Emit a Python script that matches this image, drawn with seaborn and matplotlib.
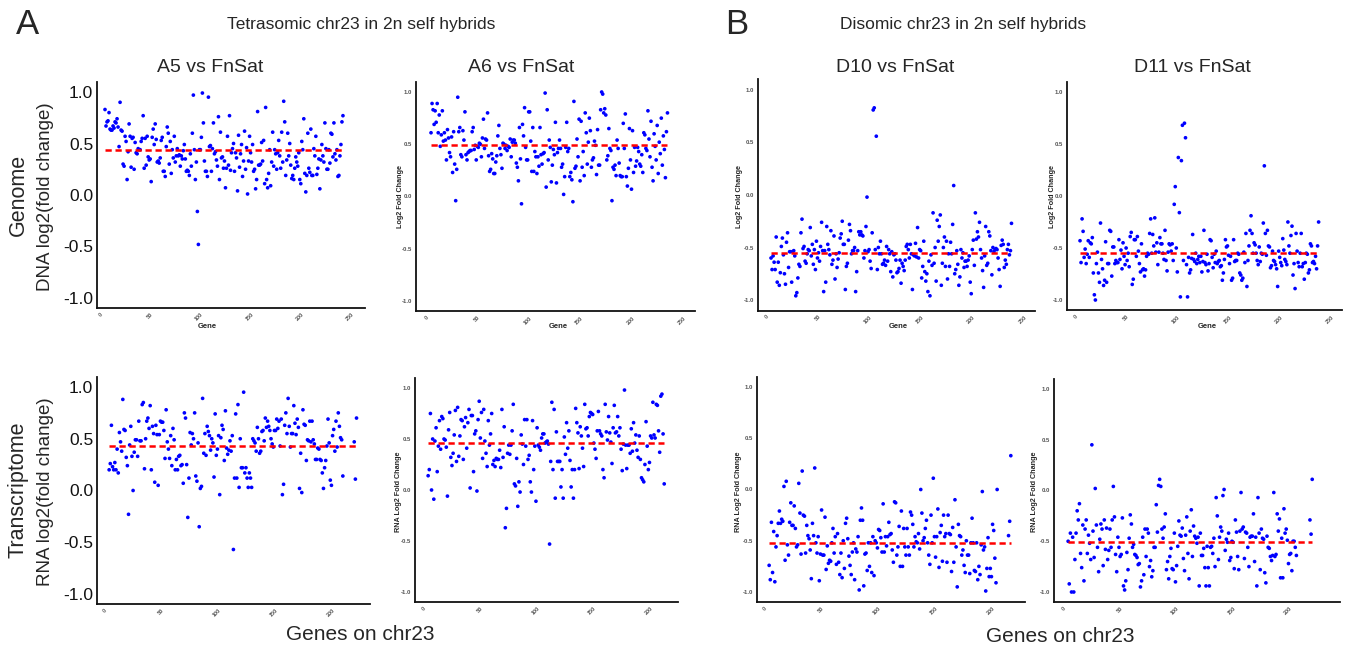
import numpy as np
import pandas as pd
import matplotlib.pyplot as plt
import seaborn as sns

# ==========================================
# 1. DATA (log2 fold change per gene on chr23)
# ==========================================
nan = np.nan

a5_dna = [0.83, 0.67, 0.71, 0.72, 0.80, 0.64, 0.63, 0.63, 0.67, 0.65, 0.71, 0.70, 0.74, 0.66, 0.47, 0.90,
          0.63, 0.62, 0.30, 0.28, 0.57, 0.52, 0.15, 0.42, 0.69, 0.57, 0.27, 0.55, 0.56, 0.25, 0.51, 0.41,
          0.40, 0.45, 0.44, 0.44, 0.52, 0.55, 0.77, 0.26, 0.55, 0.29, 0.57, 0.37, 0.34, 0.35, 0.13, 0.56,
          0.64, 0.49, 0.69, 0.54, 0.32, 0.33, 0.31, 0.36, 0.53, 0.56, 0.23, 0.23, 0.18, 0.47, 0.66, 0.60,
          0.30, 0.52, 0.21, 0.44, 0.36,
          0.57, 0.32, 0.38, 0.45, 0.38, 0.39, 0.28, 0.38, 0.35, 0.43, 0.49, 0.35, 0.23, 0.24, 0.23, 0.19,
          0.40, 0.28, 0.60, 0.97, 0.44, 0.15, 0.32, -0.16, -0.48, 0.44, 0.44, 0.56, 0.99, 0.70, 0.33, 0.23,
          0.23, 0.18, 0.95, 0.47, 0.48, 0.23, 0.45, 0.70, 0.40, 0.42, 0.34, 0.28, 0.76, 0.15, 0.61, 0.36,
          0.37, 0.26, 0.33, 0.07, 0.26, 0.57, 0.29, 0.77, 0.24, 0.41, 0.45, 0.50, 0.23, 0.41, 0.36, 0.04,
          0.58, 0.27, 0.40, 0.49, 0.18, 0.33, 0.62, 0.25, 0.46,
          0.01, 0.33, 0.57, 0.41, 0.32, 0.49, 0.23, 0.25, 0.06, 0.15, 0.81, 0.29, 0.29, 0.30, 0.51, 0.33,
          0.53, 0.11, 0.85, 0.15, 0.07, 0.21, 0.44, 0.09, 0.32, 0.61, 0.28, 0.44, 0.40, 0.25, 0.41, 0.53,
          0.38, 0.26, 0.61, 0.32, 0.91, 0.71, 0.19, 0.34, 0.60, 0.38, 0.50, 0.29, 0.16, 0.19, 0.15, 0.26,
          0.37, 0.32, 0.28, 0.41, 0.15, 0.11, 0.52, 0.44, 0.74, 0.21, 0.03, 0.19, 0.60, 0.26, 0.22, 0.64,
          0.19, 0.19, 0.45, 0.38, 0.57, 0.20, 0.26, 0.35, 0.06, 0.34, 0.49, 0.38, 0.32, 0.70, 0.45, 0.25,
          0.25, 0.44, 0.31, 0.60, 0.59, 0.37, 0.70, 0.40, 0.34, 0.44, 0.18, 0.19, 0.38, 0.49, 0.71, 0.77]

a6_dna = [0.61, 0.89, 0.83, 0.69, 0.82, 0.71, 0.89, 0.61, 0.78, 0.48, 0.59, 0.82, 0.53, 0.61, 0.54, 0.35,
          0.64, 0.56, 0.42, 0.38, 0.57, 0.23, 0.62, 0.31, -0.04, 0.26, 0.95, 0.62, 0.66, 0.40, 0.38, 0.63,
          0.54, 0.81, 0.40, 0.35, 0.42, 0.43, 0.44, 0.44, 0.62, 0.66, 0.45, 0.49, 0.35, 0.48, 0.47, 0.51,
          0.50, 0.38, 0.56, 0.74, 0.46, 0.55, 0.54, 0.80, 0.39, 0.24, 0.26, 0.41, 0.36, 0.22, 0.22, 0.33,
          0.39, 0.58, 0.68, 0.46, 0.40, 0.27, 0.51, 0.50, 0.46, 0.49, 0.44, 0.48, 0.47, 0.55, 0.38, 0.52,
          0.54, 0.54, 0.51, 0.32, 0.28, 0.15, 0.66, 0.36, -0.07, 0.69, 0.58, 0.85, 0.47, 0.35, 0.35, 0.81,
          0.81, 0.53, 0.24, 0.66, 0.24, 0.43, 0.38, 0.22, 0.38, 0.29, 0.66, 0.40, 0.31, 0.41, 0.42, 0.99,
          0.09, 0.83, 0.35, 0.54, 0.47, 0.14, 0.30, 0.45, 0.40, 0.71, 0.13, 0.42, 0.46, 0.54, 0.46, 0.28,
          0.31, 0.02, 0.19, 0.47, 0.71, 0.43, 0.46, 0.19, 0.23, 0.16, -0.05, 0.91, 0.27, 0.29, 0.55, 0.38,
          0.74, 0.15, 0.72, 0.28, 0.43, 0.20, 0.80, 0.61, 0.31, 0.52, 0.75, 0.63, 0.28, 0.35, 0.37, 0.53,
          0.49, 0.21, 0.64, 0.30, 0.30, 0.83, 1.00, 0.98, 0.80, 0.84, 0.78, 0.35, 0.39, 0.65, 0.46, 0.44,
          -0.04, 0.28, 0.26, 0.30, 0.20, 0.54, 0.46, 0.32, 0.20, 0.19, 0.19, 0.70, 0.46, 0.79, 0.19, 0.10,
          0.27, 0.65, 0.35, 0.07, 0.63, 0.23, 0.47, 0.29, 0.34, 0.47, 0.43, 0.31, 0.29, 0.40, 0.23, 0.61,
          0.59, 0.46, 0.44, 0.82, 0.55, 0.38, 0.72, 0.28, 0.15, 0.60, 0.48, 0.35, 0.68, 0.22, 0.52, 0.41,
          0.75, 0.30, 0.58, 0.45, 0.18, 0.62, 0.80]

d10_dna = [-0.60, -0.71, -0.58, -0.64, -0.71, -0.40, -0.83, -0.64, -0.86, -0.74, -0.49, -0.41, -0.57,
           -0.75, -0.85, -0.45, -0.36, -0.69, -0.54, -0.54, -0.83, -0.54, -0.53, -0.58, -0.96, -0.93,
           -0.79, -0.66, -0.68, -0.36, -0.23, -0.51, -0.49, -0.63, -0.65, -0.56, -0.52, -0.53, -0.31,
           -0.58, -0.47, -0.66, -0.52, -0.71, -0.44, -0.60, -0.55, -0.63, -0.49,
           -0.26, -0.53, -0.92, -0.53, -0.83, -0.30, -0.47, -0.52, -0.57, -0.34, -0.66, -0.62, -0.39,
           -0.80, -0.56, -0.69, -0.61, -0.55, -0.41, -0.37, -0.25, -0.47, -0.47, -0.90, -0.68, -0.65,
           -0.43, -0.28, -0.34, -0.56, -0.53, -0.53, -0.50, -0.92, -0.73, -0.53, -0.35, -0.38, -0.35,
           -0.38, -0.39, -0.60, -0.53, -0.30, -0.02, -0.54, -0.52, -0.63, -0.70, -0.36, 0.81, 0.83,
           -0.52, 0.56, -0.71, -0.50, -0.56, -0.44, -0.56, -0.66, -0.65, -0.62, -0.67, -0.49, -0.63,
           -0.52, -0.56, -0.73, -0.54, -0.78, -0.57, -0.56, -0.62, -0.74, -0.73, -0.70, -0.62, -0.84,
           -0.65, -0.68, -0.72, -0.62, -0.49, -0.47, -0.52, -0.60, -0.47, -0.56, -0.90, -0.57, -0.58,
           -0.46, -0.59, -0.31, -0.60, -0.52, -0.53, -0.79, -0.68, -0.44, -0.73, -0.82, -0.75, -0.92,
           -0.63, -0.96, -0.57, -0.67, -0.17, -0.65, -0.50, -0.82, -0.24, -0.44, -0.30, -0.19, -0.86,
           -0.65, -0.50, -0.40, -0.68, -0.44, -0.80, -0.56, -0.68, -0.45, -0.56, -0.28, 0.09, -0.75,
           -0.71, -0.53, -0.66, -0.86, -0.78, -0.52, -0.60, -0.55, -0.69, -0.63, -0.63, -0.68, -0.62,
           -0.58, -0.83, -0.94, -0.52, -0.43, -0.67, -0.17, -0.42, -0.35, -0.40, -0.26, -0.52, -0.60,
           -0.72, -0.88, -0.58, -0.30, -0.67, -0.65, -0.35, -0.39, -0.53, -0.76, -0.50, -0.54, -0.52,
           -0.51, -0.52, -0.60, -0.71, -0.87, -0.48, -0.43, -0.47, -0.69, -0.62, -0.66, -0.52, -0.47,
           -0.57, -0.53, -0.27]

d11_dna = [-0.43, -0.64, -0.22, -0.34, -0.59, -0.51, -0.65, -0.56, -0.43, -0.59, -0.45, -0.46, -0.40,
           -0.74, -0.95, -1.00, -0.65, -0.54, -0.74, -0.83, -0.26, -0.61, -0.70, -0.86, -0.81, -0.44,
           -0.83, -0.65, -0.65, -0.33, -0.34, -0.77, -0.49, -0.49, -0.65, -0.62, -0.64, -0.64, -0.42,
           -0.61, -0.52, -0.70, -0.45, -0.58, -0.66, -0.50, -0.62, -0.55, -0.68,
           -0.39, -0.35, -0.85, -0.80, -0.42, -0.42, -0.58, -0.39, -0.53, -0.65, -0.73, -0.46, -0.71,
           -0.70, -0.77, -0.71, -0.58, -0.55, -0.56, -0.36, -0.22, -0.55, -0.37, -0.48, -0.21, -0.54,
           -0.45, -0.66, -0.54, -0.40, -0.46, -0.46, -0.55, -0.61, -0.33, -0.62, -0.72, -0.54, -0.46,
           -0.47, -0.53, -0.46, -0.62, -0.08, 0.09, -0.50, -0.73, 0.37, -0.16, -0.97, 0.34, 0.68, -0.62,
           0.70, 0.56, -0.66, -0.97, -0.59, -0.74, -0.71, -0.60, -0.37, -0.61, -0.63, -0.55, -0.65,
           -0.61, -0.58, -0.64, -0.58, -0.73, -0.63, -0.33, -0.64, -0.66, -0.56, -0.72, -0.65, -0.42,
           -0.43, -0.59, -0.69, -0.56, -0.64, -0.53, -0.65, -0.63, -0.62, -0.68, -0.67, -0.81, -0.74,
           -0.61, -0.42, -0.49, -0.48, -0.57, -0.65, -0.58, -0.81, -0.79, -0.42, -0.63, -0.62, -0.62,
           -0.55, -0.56, -0.74, -0.76, -0.81, -0.79, -0.54, -0.64, -0.36, -0.87, -0.62, -0.48, -0.33,
           -0.19, -0.36, -0.55, -0.45, -0.47, -0.55, -0.62, -0.66, -0.49, -0.63, -0.55, -0.56, -0.26,
           0.29, -0.36, -0.57, -0.33, -0.48, -0.49, -0.69, -0.67, -0.53, -0.62, -0.63, -0.66, -0.70,
           -0.87, -0.53, -0.59, -0.64, -0.67, -0.41, -0.52, -0.61, -0.63, -0.66, -0.25, -0.48, -0.55,
           -0.38, -0.29, -0.76, -0.65, -0.89, -0.36, -0.53, -0.64, -0.68, -0.55, -0.36, -0.68, -0.65,
           -0.80, -0.64, -0.55, -0.56, -0.74, -0.71, -0.46, -0.48, -0.64, -0.63, -0.65, -0.58, -0.70,
           -0.48, -0.25]

a5_rna = [0.20, 0.26, 0.63, 0.23, 0.20, 0.27, 0.20, 0.40, 0.17, 0.56, 0.47, 0.38, 0.88, 0.59, 0.58,
          0.32, 0.24, -0.23, 0.44, 0.62, 0.33, 0.00, 0.37, 0.49, 0.49, 0.33, 0.67, 0.48, 0.48, 0.83,
          0.85, 0.21, 0.50, 0.67, 0.70, 0.60, 0.82, 0.20, 0.62, 0.55, 0.08, 0.63, 0.54, 0.05, 0.54,
          0.67, 0.66, 0.66, 0.58, 0.31, 0.78, 0.47, 0.40, 0.31, 0.53, 0.24, 0.60, 0.49, 0.20, 0.30,
          0.20, 0.33, 0.34, 0.24, 0.25, 0.07, 0.75, 0.70, 0.25, -0.26, 0.12, 0.56, 0.44, 0.55, 0.50,
          0.75, 0.14, 0.09, 0.46, -0.35, 0.02, 0.04, 0.89, 0.36, 0.55, 0.34, 0.62, 0.57, 0.53, 0.39,
          0.50, 0.46, 0.13, 0.74, 0.34, 0.40, 0.53, -0.04, 0.51, 0.63, 0.59, 0.29, 0.77, 0.41, 0.35,
          0.39, 0.48, 0.38, 0.53, -0.57, 0.12, 0.74, 0.12, 0.83, 0.03, 0.50, 0.22, 0.22, 0.95, 0.17,
          0.22, 0.12, 0.03, 0.17, 0.12, 0.03, 0.50, 0.48, 0.46, 0.38, 0.61, 0.50, 0.36, 0.38, 0.57,
          0.58, 0.48, 0.70, 0.61, 0.67, 0.62, 0.58, 0.50, 0.45, 0.42, 0.58, 0.58, 0.69, 0.60, 0.67,
          0.43, 0.69, -0.04, 0.06, 0.63, 0.75, 0.55, 0.89, 0.62, 0.42, 0.55, 0.55, 0.82, 0.65, 0.54,
          0.69, 0.61, 0.02, 0.36, -0.02, 0.78, 0.64, 0.63, 0.29, 0.49, 0.48, 0.67, 0.47, 0.67, 0.49,
          0.45, 0.30, 0.30, 0.41, 0.40, 0.30, 0.29, 0.17, 0.02, 0.22, 0.29, 0.43, 0.69, 0.46, 0.10,
          0.05, 0.53, 0.59, 0.38, 0.67, 0.42, 0.75, 0.62, 0.51, 0.49, 0.14,
          nan, nan, nan, nan, nan, nan, nan, nan, nan, 0.47, 0.11, 0.70]

a6_rna = [0.14, 0.20, 0.75, 0.00, 0.50, -0.09, 0.48, 0.61, 0.18, 0.43, 0.68, 0.40, 0.72, 0.70, 0.50,
          0.49, 0.42, -0.06, 0.59, 0.76, 0.32, 0.24, 0.36, 0.54, 0.78, 0.28, 0.81, 0.33, 0.53, 0.69,
          0.68, 0.30, 0.62, 0.71, 0.41, 0.66, 0.79, 0.02, 0.73, 0.73, 0.18, 0.55, 0.58, -0.01, 0.69,
          0.87, 0.51, 0.76, 0.31, 0.79, 0.48, 0.36, 0.23, 0.68, 0.44, 0.55, 0.75, 0.25, 0.29, 0.23,
          0.31, 0.30, 0.30, 0.39, 0.22, 0.79, 0.32, 0.62, -0.37, -0.18, 0.36, 0.44, 0.35, 0.44, 0.58,
          0.84, 0.06, 0.04, 0.31, -0.16, 0.08, -0.02, 0.54, 0.45, 0.25, 0.69, 0.43, 0.69, 0.30, 0.34,
          0.08, -0.02, 0.68, 0.20, 0.43, -0.11, 0.61, 0.44, 0.42, 0.39, 0.51, 0.55, 0.55, 0.46, 0.47,
          0.48, 0.45, -0.53, 0.28, 0.86, 0.20, 0.79, -0.08, 0.57, 0.28, 0.28, 0.28, 0.03, 0.20, -0.08,
          0.52, 0.35, 0.66, 0.41, 0.58, 0.29,
          0.03, 0.20, -0.08, 0.20, 0.80, 0.66, 0.56, 0.21, 0.62, 0.53, 0.41, 0.23, 0.84, 0.60, 0.61,
          0.53, 0.72, 0.76, 0.75, 0.74, 0.46, 0.40, 0.31, 0.58, 0.77, 0.58, 0.55, 0.53, 0.20, 0.12,
          0.84, 0.57, 0.49, 0.72, 0.56, 0.47, 0.26, 0.61, 0.83, 0.56, 0.57, 0.72, 0.53, 0.61, 0.40,
          0.19, 0.45, 0.98, 0.44, 0.21, 0.44, 0.44, 0.36, 0.60, 0.38, 0.66, 0.46, 0.54, 0.39, 0.32,
          0.53, 0.30, 0.12, 0.10, 0.08, 0.25, 0.67, 0.43, 0.20, 0.27, 0.53, 0.51, 0.86, 0.54, 0.51,
          0.84, 0.83, 0.58, 0.37, 0.92, 0.94, 0.55, 0.06]

d10_rna = [-0.74, -0.88, -0.32, -0.81, -0.41, -0.90, -0.56, -0.45, -0.33, -0.21, -0.33, -0.29, -0.31,
           0.03, -0.69, 0.08, -0.54, -0.64, -0.32, -0.13, -0.35, -0.35, -0.16, -0.38, -0.56, -0.54,
           0.06, -0.23, -0.63, 0.18, -0.25, -0.26, -0.62, -0.35, -0.45, -0.48, -0.59, -0.87, -0.33,
           -0.45, 0.21, -0.52, -0.62, -0.46, -0.89, -0.63, -0.20, -0.64, -0.64, -0.27, -0.78, -0.55,
           -0.72, -0.69, -0.70, -0.52, -0.38, -0.62, -0.46, -0.73, -0.43, -0.71, -0.83, -0.62, -0.86,
           -0.50, -0.77, -0.33, -0.28, -0.48, -0.65, -0.74, -0.83, -0.61, -0.52, -0.88, -0.58, -0.61,
           -0.46, -0.98, -0.30, -0.18, -0.30, -0.94, -0.63, -0.62, -0.79, -0.52, -0.75, -0.52, -0.81,
           -0.46, -0.84, -0.50, -0.52, -0.57, -0.39, -0.40, -0.47, -0.61, -0.14, -0.61, -0.46, -0.55,
           -0.46, -0.32, -0.44, -0.43, -0.59, -0.71, -0.12, -0.13, -0.64, -0.56, -0.36, -0.75, -0.21,
           -0.75, -0.38, -0.56, -0.64, -0.38, -0.56, -0.64, -0.22, -0.25, -0.34, -0.56, -0.46, -0.51,
           -0.52, -0.43, -0.58, 0.00, -0.23, -0.50, -0.47, -0.38, -0.30, -0.52, -0.64, -0.73, -0.25,
           -0.52, 0.11, -0.46, -0.66, -0.46, -0.19, -0.76, -0.42, -0.35, -0.70, -0.25, -0.46, -0.43,
           -0.71, -0.25, -0.43, -0.44, -0.80, -0.37, -0.71, -0.10, -0.56, -0.95, -0.34, -0.45, -0.46,
           -0.64, -0.59, -0.74, -0.81, -0.50, -0.64, -0.64, -0.82, -0.52, -0.28, -0.52, -0.79, -0.80,
           -0.52, -0.88, -0.75, -0.83, -0.54, -0.02, -0.59, -0.56, -0.99, -0.77, -0.47, -0.85, -0.77,
           -0.85, -0.34, -0.40, -0.67, -0.91, 0.00,
           nan, nan, nan, nan, nan, nan, nan, nan, nan, -0.45, -0.31, 0.33]

d11_rna = [-0.50, -0.92, -0.42, -1.00, -0.46, -1.00, -0.68, -0.42, -0.20, -0.29, -0.13, -0.62, -0.76,
           -0.34, -0.89, -0.38, -0.29, -0.62, -0.44, -0.52, -0.68, 0.45, -0.40, -0.66, 0.02, -0.34,
           -0.56, -0.80, -0.48, -0.33, -0.38, -0.74, -0.29, -0.58, -0.37, -0.68, -0.59, -0.38, -0.56,
           -0.29, 0.04, -0.26, -0.63, -0.80, -0.46, -0.56, -0.65, -0.63, -0.27, -0.94, -0.98, -0.89,
           -0.61, -0.78, -0.47, -0.24, -0.33, -0.56, -0.53, -0.63, -0.64, -0.66, -0.73, -0.72, -0.95,
           -0.89, -0.46, -0.83, -0.38, -0.65, -0.38, -0.42, -0.75, -0.69, -0.85, -0.79, -0.56, -0.56,
           -0.14, -0.41, 0.05, 0.11, 0.04, -0.38, -0.47, -0.36, -0.23, -0.78, -0.70, -0.87, -0.65,
           -0.57, -0.77, -0.78, -0.42, -0.90, -0.74, -0.55, -0.30, -0.44, -0.45, -0.37, -0.67, -0.79,
           -0.44, -0.26, -0.62, -0.87, -0.40, -0.19, -0.65, -0.35, -0.45, -0.47, -0.52, -0.46, -0.94,
           -0.42, -0.64, -0.64, -0.57, -0.76, -0.94, -0.55, -0.76, -0.94, -0.56, -0.55, -0.62, -0.47,
           -0.75, -0.07, -0.25, -0.68, -0.46, -0.36, -0.40, -0.05, 0.01, -0.59, -0.48, -0.51, -0.42,
           -0.69, -0.66, -0.50, -0.51, -0.77, -0.29, -0.41, -0.65, -0.78, -0.40, -0.02, -0.38, -0.36,
           -0.67, -0.41, -0.42, -0.56, -0.75, -0.46, -0.45, -0.45, -0.23, -0.70, -0.46, -0.94, -0.07,
           -0.42, -0.78, -0.38, -0.47, -0.48, -0.81, -0.91, -0.45, -0.56, -0.57, -0.65, -0.69, -0.64,
           -0.02, -0.65, -0.63, -0.23, -0.40, -0.28, -0.86, -0.47, -0.86, -0.18, -0.42, -0.38, -0.49,
           -0.72, -0.63, -0.62, -0.79, -0.50, -0.50, -0.56, -0.64,
           nan, nan, nan, nan, nan, nan, nan, nan, nan, nan, nan, -0.29, -0.43, 0.11]

# mean line (red dashed) of each comparison
means = {'A5_dna': 0.44, 'A6_dna': 0.49, 'D10_dna': -0.55, 'D11_dna': -0.55,
         'A5_rna': 0.43, 'A6_rna': 0.46, 'D10_rna': -0.52, 'D11_rna': -0.51}

dna_ticks = [0, 50, 100, 150, 200, 250]
rna_ticks = [0, 50, 100, 150, 200]
y_ticks = [-1.0, -0.5, 0.0, 0.5, 1.0]
y_labels = ['-1.0', '-0.5', '0.0', '0.5', '1.0']

# ==========================================
# 2. FIGURE
# ==========================================
sns.set_theme(style="white")
plt.rcParams['font.family'] = ['Liberation Sans', 'DejaVu Sans']

W, H = 1350, 654
fig = plt.figure(figsize=(W / 100, H / 100), dpi=100)
fig.patch.set_facecolor('white')


def px(x, y):
    return x / W, 1 - y / H


def painel(vals, media, xticks, x0, x_end, left, right, y_top, y_bot, big=False):
    # x0/x_end: pixel of first/last tick, y_top/y_bot: pixel of 1.0 / -1.0
    ax = fig.add_axes([0, 0, 1, 1])
    df = pd.DataFrame({'Gene': np.arange(1, len(vals) + 1), 'LFC': vals}).dropna()
    sns.scatterplot(data=df, x='Gene', y='LFC', ax=ax, color='#0000ff', s=7,
                    linewidth=0, edgecolor='none', legend=False)
    ax.hlines(media, df['Gene'].min(), df['Gene'].max(), colors='#ff0000', lw=1.8,
              linestyles=(0, (2.5, 1.5)), zorder=3)

    ppg = (x_end - x0) / xticks[-1]
    ppu = (y_bot - y_top) / 2
    top = y_top - 0.1 * ppu
    bot = y_bot + 0.1 * ppu
    ax.set_position([left / W, 1 - bot / H, (right - left) / W, (bot - top) / H])
    ax.set_xlim((left - x0) / ppg, (right - x0) / ppg)
    ax.set_ylim(-1.1, 1.1)

    ax.set_xticks(xticks)
    ax.set_xticklabels([str(t) for t in xticks], rotation=45, ha='right', fontsize=4,
                       color='#555555', fontweight='bold')
    ax.set_yticks(y_ticks)
    if big:
        ax.set_yticklabels(y_labels, fontsize=12.5, color='#111111')
    else:
        ax.set_yticklabels(y_labels, fontsize=4.3, color='#555555', fontweight='bold')
    ax.tick_params(axis='both', length=1.5, width=0.5, pad=1.2, colors='#555555',
                   labelcolor='#111111' if big else '#555555')
    ax.tick_params(axis='x', labelcolor='#555555')
    for s in ['top', 'right']:
        ax.spines[s].set_visible(False)
    for s in ['left', 'bottom']:
        ax.spines[s].set_color('#111111')
        ax.spines[s].set_linewidth(1.3)
    ax.set_xlabel('')
    ax.set_ylabel('')
    ax.grid(False)
    return ax


# genome row
painel(a5_dna, means['A5_dna'], dna_ticks, 104, 355, 97, 365, 92, 298, big=True)
painel(a6_dna, means['A6_dna'], dna_ticks, 430, 687, 416, 695, 92, 301)
painel(d10_dna, means['D10_dna'], dna_ticks, 770, 1028, 758, 1035, 90, 300)
painel(d11_dna, means['D11_dna'], dna_ticks, 1079, 1335, 1067, 1342, 92, 300)

# transcriptome row
painel(a5_rna, means['A5_rna'], rna_ticks, 108, 336, 97, 370, 387, 594, big=True)
painel(a6_rna, means['A6_rna'], rna_ticks, 427, 654, 415, 678, 388, 592)
painel(d10_rna, means['D10_rna'], rna_ticks, 768, 996, 757, 1025, 387, 592)
painel(d11_rna, means['D11_rna'], rna_ticks, 1067, 1293, 1054, 1340, 389, 592)

# ==========================================
# 3. TEXTS
# ==========================================
fig.text(*px(28, 25), 'A', fontsize=25, ha='center', va='center')
fig.text(*px(737, 25), 'B', fontsize=25, ha='center', va='center')
fig.text(*px(361, 25), 'Tetrasomic chr23 in 2n self hybrids', fontsize=12.5, ha='center', va='center')
fig.text(*px(963, 25), 'Disomic chr23 in 2n self hybrids', fontsize=12.5, ha='center', va='center')

fig.text(*px(210, 67), 'A5 vs FnSat', fontsize=14, ha='center', va='center')
fig.text(*px(521, 67), 'A6 vs FnSat', fontsize=14, ha='center', va='center')
fig.text(*px(895, 67), 'D10 vs FnSat', fontsize=14, ha='center', va='center')
fig.text(*px(1192, 68), 'D11 vs FnSat', fontsize=14, ha='center', va='center')

fig.text(*px(18, 195), 'Genome', fontsize=15.5, rotation=90, ha='center', va='center')
fig.text(*px(46, 197), 'DNA log2(fold change)', fontsize=13.5, rotation=90, ha='center', va='center')
fig.text(*px(18, 490), 'Transcriptome', fontsize=15.5, rotation=90, ha='center', va='center')
fig.text(*px(46, 492), 'RNA log2(fold change)', fontsize=13.5, rotation=90, ha='center', va='center')

fig.text(*px(360, 634), 'Genes on chr23', fontsize=15, ha='center', va='center')
fig.text(*px(1060, 636), 'Genes on chr23', fontsize=15, ha='center', va='center')

for x in [207, 558, 898, 1207]:
    fig.text(*px(x, 326), 'Gene', fontsize=5.5, fontweight='bold', ha='center', va='center')
for x in [401, 739, 1053]:
    fig.text(*px(x, 196), 'Log2 Fold Change', fontsize=5.2, fontweight='bold', rotation=90,
             ha='center', va='center')
for x in [399, 738, 1035]:
    fig.text(*px(x, 492), 'RNA Log2 Fold Change', fontsize=5.2, fontweight='bold', rotation=90,
             ha='center', va='center')

plt.savefig('out.png', dpi=100, facecolor='white')
